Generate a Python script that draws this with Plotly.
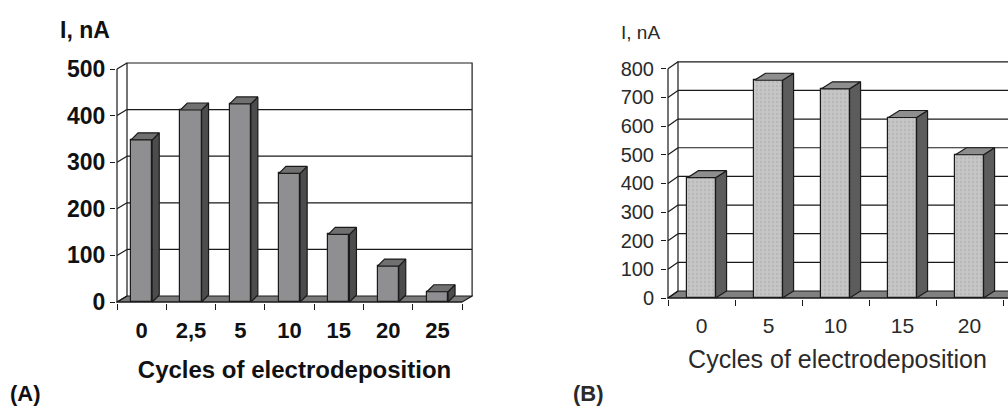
import plotly.graph_objects as go

# Panel (A): current vs. number of electrodeposition cycles
cycles_a = ["0", "2,5", "5", "10", "15", "20", "25"]
current_a = [348, 412, 425, 276, 145, 77, 22]
yticks_a = [0, 100, 200, 300, 400, 500]

# Panel (B)
cycles_b = ["0", "5", "10", "15", "20"]
current_b = [420, 760, 730, 630, 500]
yticks_b = [0, 100, 200, 300, 400, 500, 600, 700, 800]

W, H = 1008, 408
INK = "#1a1a1a"

# pixel frame of each panel: front-axis origin, scale, plot box, 3D depth
FRAME_A = dict(x0=117, y0=302, kx=49.3, ky=0.466, box=(116, 473, 61, 303),
               wall=(10, 6), bar=(7, 7), bw=0.43, open_right=False)
FRAME_B = dict(x0=668, y0=298, kx=67.0, ky=0.2865, box=(667, 1008, 60, 299),
               wall=(10, 7), bar=(11, 7), bw=0.42, open_right=True)

STYLE_A = dict(front="#8f8f91", side="#4c4c4c", top="#707070", floor="#7a7a7a",
               family="Liberation Sans, Arial, sans-serif", weight="bold",
               ytick=23, xtick=22, title=24, color="#111111", pattern=False,
               ystand=0, xstand=12, tstand=19)
STYLE_B = dict(front="#c6c6c6", side="#5c5c5c", top="#8e8e8e", floor="#808080",
               family="Liberation Sans, Arial, sans-serif", weight="normal",
               ytick=20, xtick=21, title=25, color="#2a2a2a", pattern=True,
               ystand=3, xstand=12, tstand=14)


def add_panel(fig, n, cats, vals, yticks, fr, st):
    xa = "x" if n == 1 else f"x{n}"
    ya = "y" if n == 1 else f"y{n}"
    kx, ky = fr["kx"], fr["ky"]
    left, right, top, bottom = fr["box"]
    wdx, wdy = fr["wall"][0] / kx, fr["wall"][1] / ky
    bdx, bdy = fr["bar"][0] / kx, fr["bar"][1] / ky
    bw = fr["bw"]

    xrange_ = [-0.5 + (left - fr["x0"]) / kx, -0.5 + (right - fr["x0"]) / kx]
    yrange_ = [(fr["y0"] - bottom) / ky, (fr["y0"] - top) / ky]

    idx = list(range(len(cats)))
    xl = -0.5
    xr = len(cats) - 0.5
    if fr["open_right"]:
        xr = xrange_[1] + 1  # wall runs off the picture
    ytop = yticks[-1]

    # back wall, gridlines, floor and front axes as shapes under the bars
    line = dict(color=INK, width=1.2)
    shapes = []
    shapes.append(dict(type="path", xref=xa, yref=ya, layer="below",
                       path=f"M{xl},0 L{xr},0 L{xr + wdx},{wdy} L{xl + wdx},{wdy} Z",
                       fillcolor=st["floor"], line=line))
    shapes.append(dict(type="path", xref=xa, yref=ya, layer="below",
                       path=(f"M{xl + wdx},{wdy} L{xl + wdx},{ytop + wdy} "
                             f"L{xr + wdx},{ytop + wdy} L{xr + wdx},{wdy}"),
                       line=line))
    for g in yticks[1:-1]:
        shapes.append(dict(type="line", xref=xa, yref=ya, layer="below",
                           x0=xl + wdx, x1=xr + wdx, y0=g + wdy, y1=g + wdy, line=line))
    for g in yticks:
        shapes.append(dict(type="line", xref=xa, yref=ya, layer="below",
                           x0=xl, x1=xl + wdx, y0=g, y1=g + wdy, line=line))
    shapes.append(dict(type="path", xref=xa, yref=ya, layer="below",
                       path=f"M{xl},{ytop} L{xl},0 L{xr},0", line=line))
    for s in shapes:
        fig.add_shape(**s)

    marker = dict(color=st["front"], line=dict(color=INK, width=1.2))
    if st["pattern"]:
        marker["pattern"] = dict(shape=".", bgcolor=st["front"], fgcolor="#a9a9a9",
                                 size=4, solidity=0.3)
    fig.add_trace(go.Bar(x=idx, y=vals, width=bw, marker=marker,
                         xaxis=xa, yaxis=ya, hoverinfo="skip"))

    side_x, side_y, top_x, top_y = [], [], [], []
    for i, v in zip(idx, vals):
        r = i + bw / 2
        l = i - bw / 2
        side_x += [r, r + bdx, r + bdx, r, r, None]
        side_y += [0, bdy, v + bdy, v, 0, None]
        top_x += [l, l + bdx, r + bdx, r, l, None]
        top_y += [v, v + bdy, v + bdy, v, v, None]
    for xs, ys, c in ((side_x, side_y, st["side"]), (top_x, top_y, st["top"])):
        fig.add_trace(go.Scatter(x=xs, y=ys, mode="lines", fill="toself",
                                 fillcolor=c, line=dict(color=INK, width=1.2),
                                 xaxis=xa, yaxis=ya, hoverinfo="skip"))

    font_t = dict(family=st["family"], size=st["xtick"], color=st["color"],
                  weight=st["weight"])
    fig.update_layout({
        f"xaxis{'' if n == 1 else n}": dict(
            domain=[left / W, right / W], range=xrange_, anchor=ya,
            showgrid=False, zeroline=False, showline=False, automargin=False,
            tickvals=idx, ticktext=cats, ticks="", tickfont=font_t,
            ticklabelstandoff=st["xstand"],
            minor=dict(tickvals=[i - 0.5 for i in idx] + [len(cats) - 0.5],
                       ticks="outside", ticklen=6, tickwidth=1.2, tickcolor=INK,
                       showgrid=False),
            title=dict(text="Cycles of electrodeposition", standoff=st["tstand"],
                       font=dict(family=st["family"], size=st["title"],
                                 color=st["color"], weight=st["weight"])),
        ),
        f"yaxis{'' if n == 1 else n}": dict(
            domain=[(H - bottom) / H, (H - top) / H], range=yrange_, anchor=xa,
            showgrid=False, zeroline=False, showline=False, automargin=False,
            tickvals=yticks, ticks="outside", ticklen=5, tickwidth=1.2,
            tickcolor=INK, ticklabelstandoff=st["ystand"],
            tickfont=dict(family=st["family"], size=st["ytick"], color=st["color"],
                          weight=st["weight"]),
        ),
    })


def main():
    fig = go.Figure()
    add_panel(fig, 1, cycles_a, current_a, yticks_a, FRAME_A, STYLE_A)
    add_panel(fig, 2, cycles_b, current_b, yticks_b, FRAME_B, STYLE_B)

    lab = "Liberation Sans, Arial, sans-serif"
    notes = [
        ("I, nA", 58, 30, 23, "bold", "#111111"),
        ("(A)", 8, 393, 22, "bold", "#111111"),
        ("I, nA", 619, 32, 19, "normal", "#2a2a2a"),
        ("(B)", 571, 393, 22, "bold", "#2a2a2a"),
    ]
    for text, px, py, size, weight, color in notes:
        fig.add_annotation(text=text, xref="paper", yref="paper",
                           x=px / W, y=(H - py) / H, xanchor="left", yanchor="middle",
                           showarrow=False,
                           font=dict(family=lab, size=size, weight=weight, color=color))

    fig.update_layout(width=W, height=H, margin=dict(l=0, r=0, t=0, b=0),
                      paper_bgcolor="white", plot_bgcolor="rgba(0,0,0,0)",
                      showlegend=False, bargap=0)
    # page body has a default 8px margin; drop it so the figure fills the window
    fig.write_html("out.html", config={"displayModeBar": False},
                   post_script="document.body.style.margin='0';")


if __name__ == "__main__":
    main()
